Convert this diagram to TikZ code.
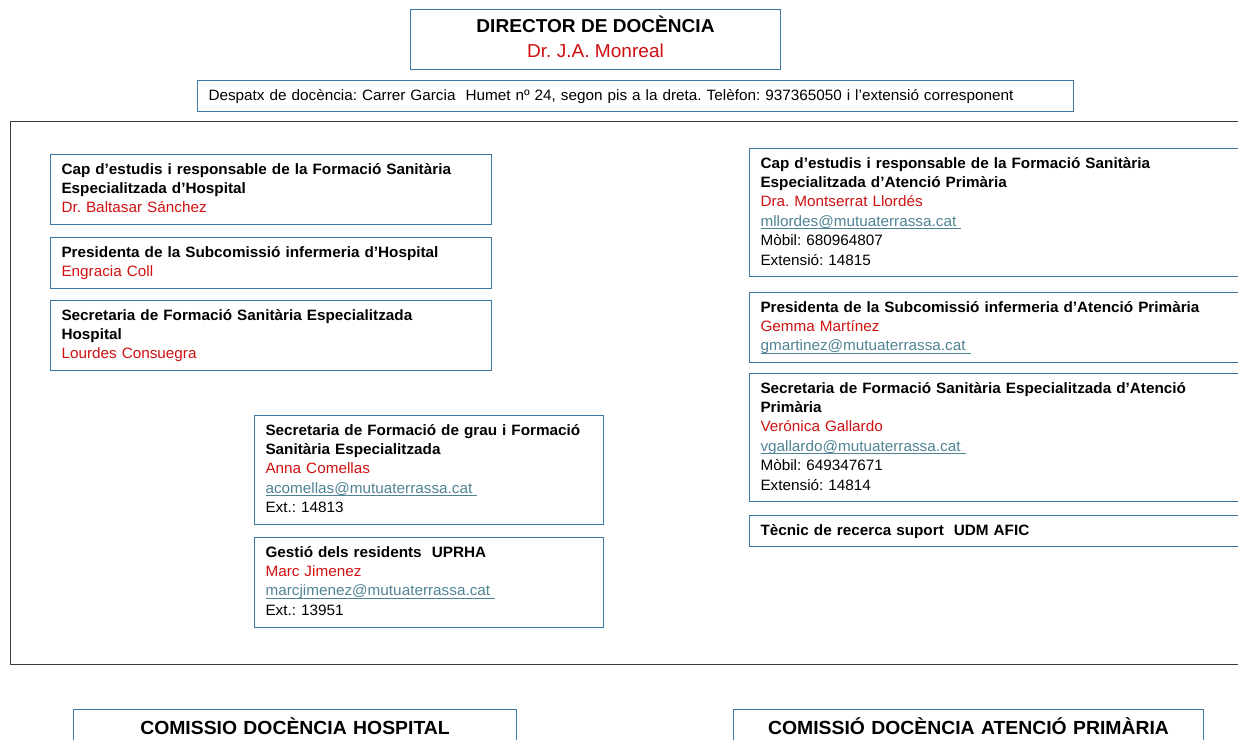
\documentclass[tikz,border=0pt]{standalone}
\usepackage{fontspec}
\setmainfont[FakeStretch=1.02]{Liberation Sans}
\definecolor{boxc}{HTML}{3E79A6}
\definecolor{namec}{HTML}{D01010}
\definecolor{linkc}{HTML}{4F8394}
\definecolor{framec}{HTML}{3A3A3A}
\newcommand\lnk[1]{\leavevmode{\color{linkc}\setbox0\hbox{#1\ }\rlap{\rule[-2.6pt]{\wd0}{0.7pt}}\box0}}
\newcommand\nm[1]{{\color{namec}#1}}
\frenchspacing
\begin{document}
\begin{tikzpicture}[x=1pt,y=-1pt,
  box/.style={draw=boxc, line width=1pt, anchor=north west, align=left,
    inner xsep=11pt, inner ysep=6pt,
    font=\fontsize{15}{19.4}\selectfont\frenchspacing},
  headbox/.style={draw=boxc, line width=1pt, anchor=north west, align=center,
    inner sep=0pt},
  frame/.style={draw=framec, line width=1.1pt}]
\useasboundingbox (0,0) rectangle (1238,739);
\clip (0,0) rectangle (1238,739);
% director
\node[headbox, minimum width=370, minimum height=60, font=\fontsize{18.7}{25}\selectfont] (dir) at (410,9)
  {\strut\textbf{DIRECTOR DE DOCÈNCIA}\\\nm{Dr. J.A. Monreal}\strut};
\node[box, text width=854, inner ysep=6pt] (desp) at (197,80)
  {\strut Despatx de docència: Carrer Garcia \ Humet nº 24, segon pis a la dreta. Telèfon: 937365050 i l’extensió corresponent\strut};
% frame
\node[frame, anchor=north west, minimum width=1260, minimum height=543, inner sep=0pt] (frm) at (10,121) {};
% left column
\node[box, text width=419] (h1) at (50,154)
  {\strut\textbf{Cap d’estudis i responsable de la Formació Sanitària}\\
   \textbf{Especialitzada d’Hospital}\\
   \nm{Dr. Baltasar Sánchez}\strut};
\node[box, text width=419] (h2) at (50,237)
  {\strut\textbf{Presidenta de la Subcomissió infermeria d’Hospital}\\
   \nm{Engracia Coll}\strut};
\node[box, text width=419] (h3) at (50,300)
  {\strut\textbf{Secretaria de Formació Sanitària Especialitzada}\\
   \textbf{Hospital}\\
   \nm{Lourdes Consuegra}\strut};
% middle column
\node[box, text width=327] (m1) at (254,415)
  {\strut\textbf{Secretaria de Formació de grau i Formació}\\
   \textbf{Sanitària Especialitzada}\\
   \nm{Anna Comellas}\\
   \lnk{acomellas@mutuaterrassa.cat}\\
   Ext.: 14813\strut};
\node[box, text width=327] (m2) at (254,537)
  {\strut\textbf{Gestió dels residents \ UPRHA}\\
   \nm{Marc Jimenez}\\
   \lnk{marcjimenez@mutuaterrassa.cat}\\
   Ext.: 13951\strut};
% right column
\node[box, text width=500] (p1) at (749,148)
  {\strut\textbf{Cap d’estudis i responsable de la Formació Sanitària}\\
   \textbf{Especialitzada d’Atenció Primària}\\
   \nm{Dra. Montserrat Llordés}\\
   \lnk{mllordes@mutuaterrassa.cat}\\
   Mòbil: 680964807\\
   Extensió: 14815\strut};
\node[box, text width=500] (p2) at (749,292)
  {\strut\textbf{Presidenta de la Subcomissió infermeria d’Atenció Primària}\\
   \nm{Gemma Martínez}\\
   \lnk{gmartinez@mutuaterrassa.cat}\strut};
\node[box, text width=500] (p3) at (749,373)
  {\strut\textbf{Secretaria de Formació Sanitària Especialitzada d’Atenció}\\
   \textbf{Primària}\\
   \nm{Verónica Gallardo}\\
   \lnk{vgallardo@mutuaterrassa.cat}\\
   Mòbil: 649347671\\
   Extensió: 14814\strut};
\node[box, text width=500] (p4) at (749,515)
  {\strut\textbf{Tècnic de recerca suport \ UDM AFIC}\strut};
% bottom commissions
\node[headbox, text width=443, inner ysep=0pt, anchor=north west, font=\fontsize{19}{23}\selectfont\bfseries] (ch) at (73,709)
  {\rule[-24pt]{0pt}{49pt}COMISSIO DOCÈNCIA HOSPITAL};
\node[headbox, text width=470, inner ysep=0pt, anchor=north west, font=\fontsize{19}{23}\selectfont\bfseries] (cp) at (733,709)
  {\rule[-24pt]{0pt}{49pt}COMISSIÓ DOCÈNCIA ATENCIÓ PRIMÀRIA};
\end{tikzpicture}
\end{document}
